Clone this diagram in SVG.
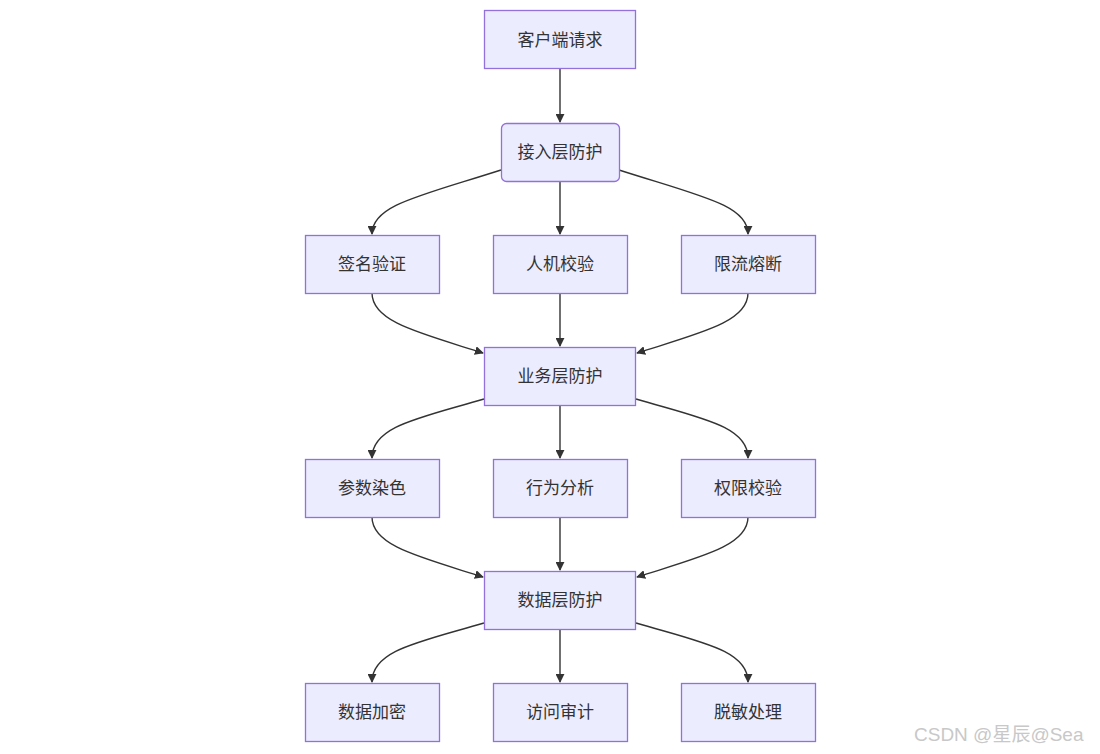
<svg xmlns="http://www.w3.org/2000/svg" width="1100" height="754" viewBox="0 0 1100 754">
<style>
.n rect{fill:#ECECFF;stroke:#9370DB;stroke-width:1.3}
.n text{font-family:"Liberation Sans","Noto Sans CJK SC",sans-serif;font-size:17px;fill:#333;text-anchor:middle;dominant-baseline:central}
.e path{fill:none;stroke:#333;stroke-width:1.4;marker-end:url(#a)}
.wm{font-family:"Liberation Sans","Noto Sans CJK SC",sans-serif;font-size:19px;fill:#c8c8c8}
</style>
<defs>
<marker id="a" viewBox="0 0 10 10" refX="9" refY="5" markerWidth="9" markerHeight="9" markerUnits="userSpaceOnUse" orient="auto">
<path d="M0,0 L10,5 L0,10 z" fill="#333"/>
</marker>
</defs>
<rect width="1100" height="754" fill="#fff"/>
<g class="e">
<path d="M560,69 L560,122"/>
<path d="M501,170 C420,196 372,205 372,234"/>
<path d="M560,181 L560,234"/>
<path d="M619,170 C700,196 748,205 748,234"/>
<path d="M372,293 C372,322 420,333 483,353"/>
<path d="M560,293 L560,346"/>
<path d="M748,293 C748,322 700,333 637,353"/>
<path d="M484,399 C420,418 372,426 372,458"/>
<path d="M560,405 L560,458"/>
<path d="M636,399 C700,418 748,426 748,458"/>
<path d="M372,517 C372,546 420,557 483,577"/>
<path d="M560,517 L560,570"/>
<path d="M748,517 C748,546 700,557 637,577"/>
<path d="M484,623 C420,642 372,650 372,682"/>
<path d="M560,629 L560,682"/>
<path d="M636,623 C700,642 748,650 748,682"/>
</g>
<g id="n1" class="n"><rect x="484.5" y="10.5" width="151" height="58"/><text x="560" y="40">客户端请求</text></g>
<g id="n2" class="n"><rect x="501.5" y="123.5" width="118" height="58" rx="5"/><text x="560" y="152">接入层防护</text></g>
<g id="n3" class="n"><rect x="305.5" y="235.5" width="134" height="58"/><text x="372" y="264">签名验证</text></g>
<g id="n4" class="n"><rect x="493.5" y="235.5" width="134" height="58"/><text x="560" y="264">人机校验</text></g>
<g id="n5" class="n"><rect x="681.5" y="235.5" width="134" height="58"/><text x="748" y="264">限流熔断</text></g>
<g id="n6" class="n"><rect x="484.5" y="347.5" width="151" height="58"/><text x="560" y="376">业务层防护</text></g>
<g id="n7" class="n"><rect x="305.5" y="459.5" width="134" height="58"/><text x="372" y="488">参数染色</text></g>
<g id="n8" class="n"><rect x="493.5" y="459.5" width="134" height="58"/><text x="560" y="488">行为分析</text></g>
<g id="n9" class="n"><rect x="681.5" y="459.5" width="134" height="58"/><text x="748" y="488">权限校验</text></g>
<g id="n10" class="n"><rect x="484.5" y="571.5" width="151" height="58"/><text x="560" y="600">数据层防护</text></g>
<g id="n11" class="n"><rect x="305.5" y="683.5" width="134" height="58"/><text x="372" y="712">数据加密</text></g>
<g id="n12" class="n"><rect x="493.5" y="683.5" width="134" height="58"/><text x="560" y="712">访问审计</text></g>
<g id="n13" class="n"><rect x="681.5" y="683.5" width="134" height="58"/><text x="748" y="712">脱敏处理</text></g>
<text class="wm" x="914" y="741">CSDN @星辰@Sea</text>
</svg>
